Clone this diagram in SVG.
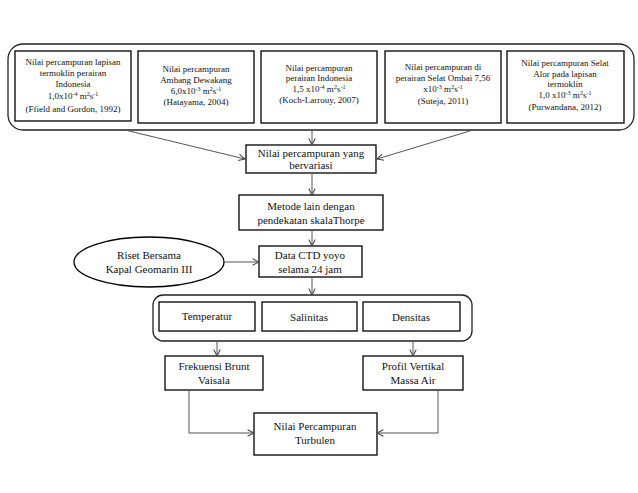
<svg xmlns="http://www.w3.org/2000/svg" width="638" height="493" viewBox="0 0 638 493">
<style>
.bx{fill:#fff;stroke:#000;stroke-width:1.3}
.gr{fill:none;stroke:#222;stroke-width:1.3}
.t{font-family:"Liberation Serif",serif;font-size:9px;text-anchor:middle;fill:#111}
.c{font-family:"Liberation Serif","DejaVu Serif",serif;font-size:11px;text-anchor:middle;fill:#111}
.ln{fill:none;stroke:#555;stroke-width:1}
.sp{font-size:6px}
</style>
<defs>
<marker id="ah" viewBox="0 0 10 10" refX="9" refY="5" markerWidth="8" markerHeight="8" orient="auto" markerUnits="userSpaceOnUse">
<path d="M1,1 L9,5 L1,9" fill="none" stroke="#444" stroke-width="1.3"/>
</marker>
</defs>
<rect width="638" height="493" fill="#fff"/>
<g id="top-group">
<rect class="gr" x="8" y="44" width="626" height="86" rx="15"/>
</g>
<g id="n1">
<rect class="bx" x="15" y="51" width="116" height="70"/>
<text class="t" x="73" y="65">Nilai percampuran lapisan</text>
<text class="t" x="73" y="76">termoklin perairan</text>
<text class="t" x="73" y="87">Indonesia</text>
<text class="t" x="73" y="99">1,0x10<tspan class="sp" dy="-3">-4</tspan><tspan dy="3"> m</tspan><tspan class="sp" dy="-3">2</tspan><tspan dy="3">s</tspan><tspan class="sp" dy="-3">-1</tspan></text>
<text class="t" x="73" y="112">(Ffield and Gordon, 1992)</text>
</g>
<g id="n2">
<rect class="bx" x="138" y="51" width="116" height="72"/>
<text class="t" x="196" y="72">Nilai percampuran</text>
<text class="t" x="196" y="83">Ambang Dewakang</text>
<text class="t" x="196" y="94">6,0x10<tspan class="sp" dy="-3">-3</tspan><tspan dy="3"> m</tspan><tspan class="sp" dy="-3">2</tspan><tspan dy="3">s</tspan><tspan class="sp" dy="-3">-1</tspan></text>
<text class="t" x="196" y="105">(Hatayama, 2004)</text>
</g>
<g id="n3">
<rect class="bx" x="261" y="51" width="116" height="72"/>
<text class="t" x="319" y="71">Nilai percampuran</text>
<text class="t" x="319" y="81">perairan Indonesia</text>
<text class="t" x="319" y="92">1,5 x10<tspan class="sp" dy="-3">-4</tspan><tspan dy="3"> m</tspan><tspan class="sp" dy="-3">2</tspan><tspan dy="3">s</tspan><tspan class="sp" dy="-3">-1</tspan></text>
<text class="t" x="319" y="103">(Koch-Larrouy, 2007)</text>
</g>
<g id="n4">
<rect class="bx" x="385" y="51" width="116" height="72"/>
<text class="t" x="443" y="70">Nilai percampuran di</text>
<text class="t" x="443" y="81">perairan Selat Ombai 7,56</text>
<text class="t" x="443" y="92">x10<tspan class="sp" dy="-3">-3</tspan><tspan dy="3"> m</tspan><tspan class="sp" dy="-3">2</tspan><tspan dy="3">s</tspan><tspan class="sp" dy="-3">-1</tspan></text>
<text class="t" x="443" y="104">(Suteja, 2011)</text>
</g>
<g id="n5">
<rect class="bx" x="507" y="51" width="117" height="72"/>
<text class="t" x="565" y="66">Nilai percampuran Selat</text>
<text class="t" x="565" y="77">Alor pada lapisan</text>
<text class="t" x="565" y="87">termoklin</text>
<text class="t" x="565" y="98">1,0 x10<tspan class="sp" dy="-3">-3</tspan><tspan dy="3"> m</tspan><tspan class="sp" dy="-3">2</tspan><tspan dy="3">s</tspan><tspan class="sp" dy="-3">-1</tspan></text>
<text class="t" x="565" y="110">(Purwandana, 2012)</text>
</g>
<g id="n-bervariasi">
<rect class="bx" x="246" y="145" width="130" height="28"/>
<text class="c" x="311" y="157">Nilai percampuran yang</text>
<text class="c" x="311" y="169">bervariasi</text>
</g>
<g id="n-thorpe">
<rect class="bx" x="239" y="195" width="144" height="35"/>
<text class="c" x="311" y="210">Metode lain dengan</text>
<text class="c" x="311" y="224">pendekatan skalaThorpe</text>
</g>
<g id="n-ctd">
<rect class="bx" x="259" y="246" width="103" height="31"/>
<text class="c" x="310" y="259">Data CTD yoyo</text>
<text class="c" x="310" y="273">selama 24 jam</text>
</g>
<g id="n-riset">
<ellipse class="bx" cx="149" cy="262" rx="75" ry="25"/>
<text class="c" x="149" y="259">Riset Bersama</text>
<text class="c" x="149" y="273">Kapal Geomarin III</text>
</g>
<g id="param-group">
<rect class="gr" x="153" y="295" width="319" height="46" rx="10"/>
</g>
<g id="n-temp">
<rect class="bx" x="159" y="302" width="96" height="29"/>
<text class="c" x="207" y="320">Temperatur</text>
</g>
<g id="n-sal">
<rect class="bx" x="262" y="302" width="95" height="29"/>
<text class="c" x="309" y="321">Salinitas</text>
</g>
<g id="n-dens">
<rect class="bx" x="363" y="302" width="97" height="29"/>
<text class="c" x="411" y="321">Densitas</text>
</g>
<g id="n-brunt">
<rect class="bx" x="165" y="356" width="98" height="34"/>
<text class="c" x="214" y="370">Frekuensi Brunt</text>
<text class="c" x="214" y="384">Vaisala</text>
</g>
<g id="n-profil">
<rect class="bx" x="363" y="356" width="100" height="34"/>
<text class="c" x="413" y="370">Profil Vertikal</text>
<text class="c" x="413" y="384">Massa Air</text>
</g>
<g id="n-turbulen">
<rect class="bx" x="254" y="413" width="123" height="42"/>
<text class="c" x="315" y="430">Nilai Percampuran</text>
<text class="c" x="315" y="444">Turbulen</text>
</g>
<g id="connectors">
<line class="ln" x1="125" y1="130" x2="245" y2="159" marker-end="url(#ah)"/>
<line class="ln" x1="473" y1="130" x2="377" y2="159" marker-end="url(#ah)"/>
<line class="ln" x1="312" y1="130" x2="312" y2="145" marker-end="url(#ah)"/>
<line class="ln" x1="312" y1="173" x2="312" y2="195" marker-end="url(#ah)"/>
<line class="ln" x1="312" y1="230" x2="312" y2="246" marker-end="url(#ah)"/>
<line class="ln" x1="224" y1="262" x2="259" y2="262" marker-end="url(#ah)"/>
<line class="ln" x1="312" y1="277" x2="312" y2="295" marker-end="url(#ah)"/>
<line class="ln" x1="217" y1="341" x2="217" y2="356" marker-end="url(#ah)"/>
<line class="ln" x1="413" y1="341" x2="413" y2="356" marker-end="url(#ah)"/>
<polyline class="ln" points="189,390 189,433 254,433" marker-end="url(#ah)"/>
<polyline class="ln" points="438,390 438,433 377,433" marker-end="url(#ah)"/>
</g>
</svg>
